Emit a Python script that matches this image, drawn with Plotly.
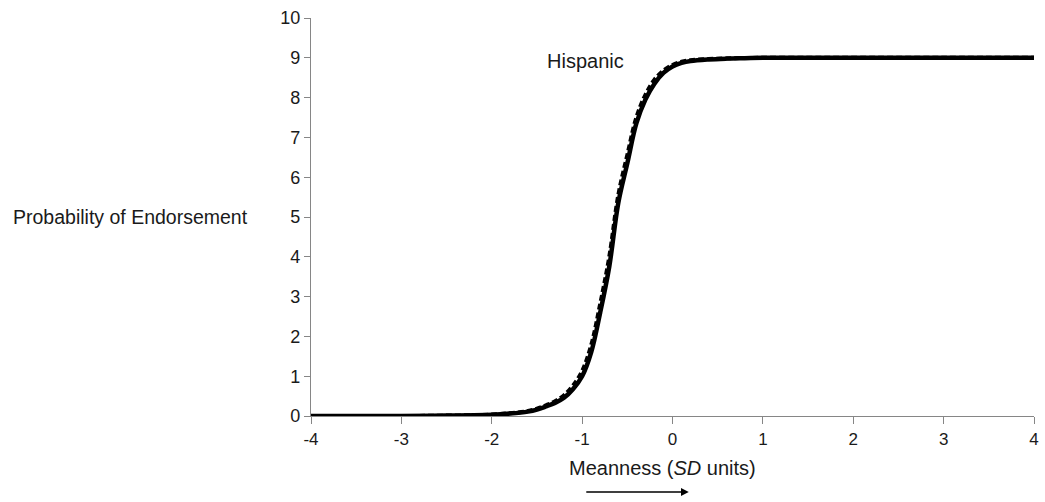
import plotly.graph_objects as go

# Meanness levels (SD units) at which the item response curves are sampled
meanness = [-4, -3, -2.5, -2, -1.8, -1.6, -1.5, -1.4, -1.3, -1.2, -1.1, -1.0,
            -0.9, -0.8, -0.7, -0.6, -0.5, -0.4, -0.3, -0.2, -0.1, 0.0,
            0.1, 0.2, 0.4, 0.6, 0.8, 1.0, 1.5, 2.0, 3.0, 4.0]

# Solid curve
solid_curve = [0.0, 0.0, 0.01, 0.03, 0.06, 0.11, 0.16, 0.24, 0.33, 0.46, 0.68, 1.0,
               1.6, 2.6, 3.75, 5.35, 6.35, 7.35, 7.95, 8.35, 8.62, 8.78,
               8.87, 8.92, 8.96, 8.98, 8.99, 9.0, 9.0, 9.0, 9.0, 9.0]

# Dashed curve
dashed_curve = [0.0, 0.0, 0.01, 0.035, 0.07, 0.125, 0.185, 0.27, 0.37, 0.52, 0.77, 1.13,
                1.78, 2.82, 4.0, 5.55, 6.56, 7.5, 8.07, 8.45, 8.68, 8.82,
                8.9, 8.94, 8.97, 8.985, 8.995, 9.0, 9.0, 9.0, 9.0, 9.0]

x_ticks = [-4, -3, -2, -1, 0, 1, 2, 3, 4]
y_ticks = list(range(0, 11))

FONT = "Liberation Sans, Arial, sans-serif"
AXIS_GRAY = "#868686"
TEXT = "#1a1a1a"

fig = go.Figure()
fig.add_trace(go.Scatter(x=meanness, y=dashed_curve, mode="lines",
                         line=dict(color="black", width=4, dash="6px,3px", shape="spline"),
                         showlegend=False, hoverinfo="skip"))
fig.add_trace(go.Scatter(x=meanness, y=solid_curve, mode="lines",
                         line=dict(color="black", width=4.5, shape="spline"),
                         showlegend=False, hoverinfo="skip"))

fig.update_layout(
    width=1045, height=502,
    margin=dict(l=311, r=6, t=18, b=86),
    paper_bgcolor="white", plot_bgcolor="white",
    font=dict(family=FONT, size=17, color=TEXT),
    xaxis=dict(range=[-4, 4], tickvals=x_ticks, ticktext=[str(v) for v in x_ticks],
               showgrid=False, zeroline=False, showline=True, linecolor=AXIS_GRAY,
               linewidth=1.3, ticks="outside", ticklen=7, tickcolor=AXIS_GRAY,
               tickwidth=1.3, tickfont=dict(size=17, family=FONT, color=TEXT)),
    yaxis=dict(range=[0, 10], tickvals=y_ticks, showgrid=False, zeroline=False,
               showline=True, linecolor=AXIS_GRAY, linewidth=1.3, ticks="outside",
               ticklen=6, tickcolor=AXIS_GRAY, tickwidth=1.3,
               tickfont=dict(size=18, family=FONT, color=TEXT)),
)

fig.add_annotation(x=-0.96, y=8.92, xref="x", yref="y", text="Hispanic",
                   showarrow=False, font=dict(size=20, family=FONT, color=TEXT))
fig.add_annotation(x=(569 - 311) / 728, y=-0.1307, xref="paper", yref="paper",
                   xanchor="left", yanchor="middle",
                   text="Meanness (<i>SD</i> units)", showarrow=False,
                   font=dict(size=20, family=FONT, color=TEXT))
fig.add_annotation(x=-0.4146, y=5.0, xref="paper", yref="y", xanchor="left",
                   text="Probability of Endorsement", showarrow=False,
                   font=dict(size=19.5, family=FONT, color=TEXT))
# Direction arrow under the axis title
fig.add_annotation(x=0.18, y=-0.191, xref="x", yref="paper", text="",
                   showarrow=True, ax=-104, ay=0, axref="pixel", ayref="pixel",
                   arrowhead=2, arrowsize=1.2, arrowwidth=1.3, arrowcolor="black")

fig.write_html("out.html")
